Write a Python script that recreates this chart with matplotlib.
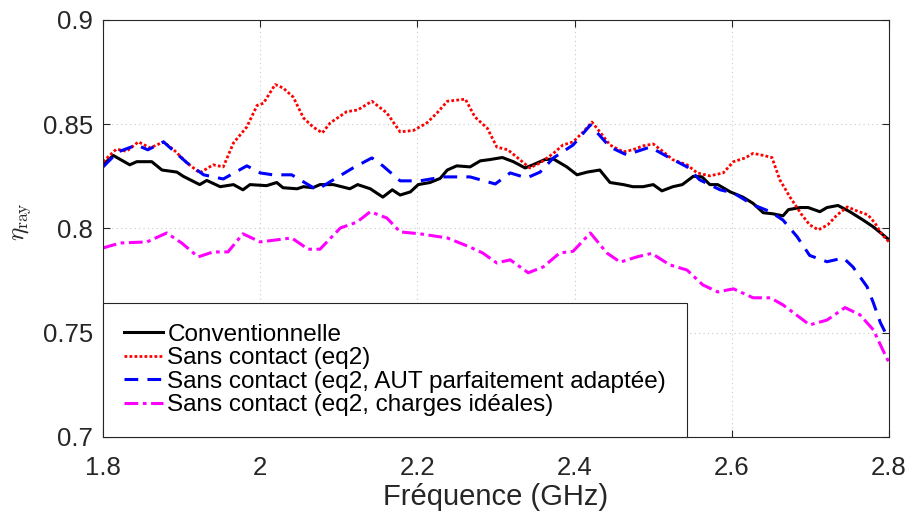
import matplotlib.pyplot as plt
import numpy as np

plt.rcParams['font.family'] = ['Liberation Sans', 'DejaVu Sans']
plt.rcParams['mathtext.fontset'] = 'cm'

# Conventionnelle
freq_conv = [1.800, 1.813, 1.834, 1.843, 1.862, 1.875, 1.894, 1.902, 1.923, 1.932,
             1.949, 1.966, 1.978, 1.987, 2.008, 2.021, 2.029, 2.047, 2.055, 2.067,
             2.076, 2.093, 2.114, 2.124, 2.140, 2.156, 2.168, 2.178, 2.191, 2.201,
             2.216, 2.229, 2.238, 2.250, 2.267, 2.280, 2.292, 2.308, 2.322, 2.337,
             2.347, 2.362, 2.373, 2.390, 2.403, 2.416, 2.432, 2.445, 2.462, 2.474,
             2.487, 2.500, 2.511, 2.525, 2.537, 2.551, 2.562, 2.572, 2.582, 2.598,
             2.614, 2.627, 2.640, 2.652, 2.665, 2.672, 2.687, 2.697, 2.712, 2.721,
             2.735, 2.750, 2.767, 2.780, 2.792, 2.800]
eta_conv = [0.8305, 0.835, 0.8305, 0.832, 0.832, 0.828, 0.827, 0.825, 0.821, 0.823,
            0.820, 0.821, 0.8185, 0.821, 0.8205, 0.822, 0.8195, 0.819, 0.820, 0.8195,
            0.821, 0.821, 0.819, 0.821, 0.819, 0.815, 0.8185, 0.816, 0.8175, 0.821,
            0.822, 0.824, 0.828, 0.830, 0.8295, 0.8324, 0.833, 0.834, 0.832, 0.829,
            0.8305, 0.833, 0.8333, 0.8295, 0.8257, 0.827, 0.828, 0.822, 0.821, 0.820,
            0.820, 0.821, 0.818, 0.820, 0.821, 0.825, 0.8247, 0.821, 0.821, 0.8175,
            0.815, 0.812, 0.8075, 0.807, 0.806, 0.809, 0.810, 0.810, 0.808, 0.810,
            0.811, 0.808, 0.804, 0.8007, 0.797, 0.7945]

# Sans contact (eq2)
freq_eq2 = [1.800, 1.817, 1.830, 1.845, 1.860, 1.877, 1.890, 1.907, 1.923, 1.940,
            1.953, 1.966, 1.983, 1.996, 2.004, 2.019, 2.029, 2.042, 2.055, 2.067,
            2.079, 2.089, 2.110, 2.124, 2.142, 2.161, 2.178, 2.195, 2.212, 2.225,
            2.238, 2.261, 2.273, 2.289, 2.301, 2.315, 2.327, 2.343, 2.356, 2.373,
            2.385, 2.398, 2.411, 2.422, 2.432, 2.445, 2.462, 2.474, 2.487, 2.500,
            2.513, 2.525, 2.543, 2.556, 2.572, 2.589, 2.602, 2.617, 2.627, 2.640,
            2.651, 2.661, 2.674, 2.689, 2.699, 2.710, 2.722, 2.734, 2.747, 2.759,
            2.773, 2.782, 2.791, 2.800]
eta_eq2 = [0.832, 0.838, 0.837, 0.8415, 0.8386, 0.8415, 0.8377, 0.8314, 0.8266, 0.8305,
           0.8295, 0.841, 0.8487, 0.859, 0.860, 0.869, 0.8674, 0.863, 0.853, 0.8487,
           0.8458, 0.8506, 0.856, 0.8568, 0.861, 0.8554, 0.8463, 0.847, 0.8506, 0.8554,
           0.861, 0.862, 0.8535, 0.848, 0.839, 0.8377, 0.834, 0.829, 0.8314, 0.836,
           0.840, 0.8415, 0.8463, 0.851, 0.8463, 0.840, 0.8367, 0.8377, 0.8396, 0.8405,
           0.8367, 0.8329, 0.8305, 0.8266, 0.8252, 0.8266, 0.832, 0.8338, 0.836, 0.835,
           0.834, 0.8233, 0.815, 0.8065, 0.8017, 0.7993, 0.8017, 0.8065, 0.8103, 0.8084,
           0.8065, 0.8026, 0.797, 0.7935]

# Sans contact (eq2, AUT parfaitement adaptee)
freq_aut = [1.800, 1.819, 1.843, 1.857, 1.877, 1.907, 1.928, 1.953, 1.983, 2.000,
            2.016, 2.040, 2.072, 2.093, 2.118, 2.142, 2.156, 2.178, 2.203, 2.233,
            2.267, 2.299, 2.318, 2.339, 2.356, 2.373, 2.398, 2.420, 2.445, 2.466,
            2.496, 2.521, 2.543, 2.559, 2.585, 2.602, 2.627, 2.649, 2.665, 2.683,
            2.699, 2.721, 2.742, 2.754, 2.772, 2.780, 2.789, 2.800]
eta_aut = [0.8295, 0.8367, 0.840, 0.8377, 0.8415, 0.8314, 0.8257, 0.8237, 0.830, 0.8266,
           0.8257, 0.8257, 0.8185, 0.8233, 0.829, 0.8338, 0.830, 0.8228, 0.8228, 0.8247,
           0.8247, 0.8213, 0.8266, 0.8242, 0.827, 0.8338, 0.840, 0.8496, 0.839, 0.8353,
           0.839, 0.8338, 0.8295, 0.8233, 0.8185, 0.817, 0.8113, 0.808, 0.804, 0.796,
           0.787, 0.784, 0.7858, 0.7815, 0.772, 0.7643, 0.7547, 0.7465]

# Sans contact (eq2, charges ideales)
freq_ideal = [1.800, 1.822, 1.856, 1.881, 1.900, 1.921, 1.940, 1.959, 1.978, 2.000,
              2.040, 2.061, 2.076, 2.102, 2.123, 2.140, 2.161, 2.178, 2.203, 2.238,
              2.267, 2.283, 2.301, 2.318, 2.341, 2.360, 2.381, 2.398, 2.420, 2.441,
              2.458, 2.479, 2.498, 2.521, 2.543, 2.563, 2.582, 2.602, 2.627, 2.649,
              2.665, 2.699, 2.721, 2.744, 2.763, 2.780, 2.792, 2.800]
eta_ideal = [0.7906, 0.793, 0.7935, 0.7978, 0.793, 0.7863, 0.7887, 0.7887, 0.7974, 0.7935,
             0.7954, 0.790, 0.790, 0.8002, 0.803, 0.808, 0.805, 0.7983, 0.7974, 0.7954,
             0.791, 0.7882, 0.7834, 0.7849, 0.7787, 0.7815, 0.7882, 0.789, 0.7978, 0.7882,
             0.7838, 0.7863, 0.788, 0.7825, 0.780, 0.7729, 0.7695, 0.771, 0.7667, 0.7667,
             0.7633, 0.7537, 0.756, 0.762, 0.7585, 0.7513, 0.7417, 0.7355]

labels = ['Conventionnelle',
          'Sans contact (eq2)',
          'Sans contact (eq2, AUT parfaitement adaptée)',
          'Sans contact (eq2, charges idéales)']

fig = plt.figure(figsize=(9.1, 5.25), dpi=100)
ax = fig.add_axes([0.1132, 0.168, 0.8638, 0.794])

ax.plot(freq_conv, eta_conv, color='black', lw=2.2, ls='-', label=labels[0])
ax.plot(freq_eq2, eta_eq2, color='red', lw=2.0, ls=(0, (1, 0.8)), label=labels[1])
ax.plot(freq_aut, eta_aut, color='blue', lw=2.2, ls=(0, (4.5, 3)), label=labels[2])
ax.plot(freq_ideal, eta_ideal, color='magenta', lw=2.2, ls=(0, (4.5, 1.5, 1.2, 1.5)),
        label=labels[3])

ax.set_xlim(1.8, 2.8)
ax.set_ylim(0.7, 0.9)
ax.set_xticks([1.8, 2.0, 2.2, 2.4, 2.6, 2.8])
ax.set_xticklabels(['1.8', '2', '2.2', '2.4', '2.6', '2.8'])
ax.set_yticks([0.7, 0.75, 0.8, 0.85, 0.9])
ax.set_yticklabels(['0.7', '0.75', '0.8', '0.85', '0.9'])
ax.tick_params(direction='in', top=True, right=True, labelsize=18.5, length=5,
               width=0.8, colors='#262626')
ax.tick_params(axis='x', pad=14)
ax.tick_params(axis='y', pad=7)
ax.grid(True, ls=(0, (1, 3)), color='#c8c8c8', lw=0.8)
for spine in ax.spines.values():
    spine.set_color('#262626')
    spine.set_linewidth(0.8)

ax.set_xlabel('Fréquence (GHz)', fontsize=21, color='#262626', labelpad=2)
ax.set_ylabel(r'$\eta_{\mathrm{ray}}$', fontsize=18, color='#262626')
ax.yaxis.set_label_coords(-0.089, 0.516)

leg = ax.legend(loc='lower left', fontsize=17.5, frameon=True, fancybox=False,
                borderaxespad=0, handlelength=1.6, handletextpad=0.2,
                labelspacing=0.06, borderpad=0.85)
leg.get_frame().set_edgecolor('#262626')
leg.get_frame().set_linewidth(0.8)
leg.get_frame().set_alpha(1)

fig.savefig('out.png', dpi=100)
